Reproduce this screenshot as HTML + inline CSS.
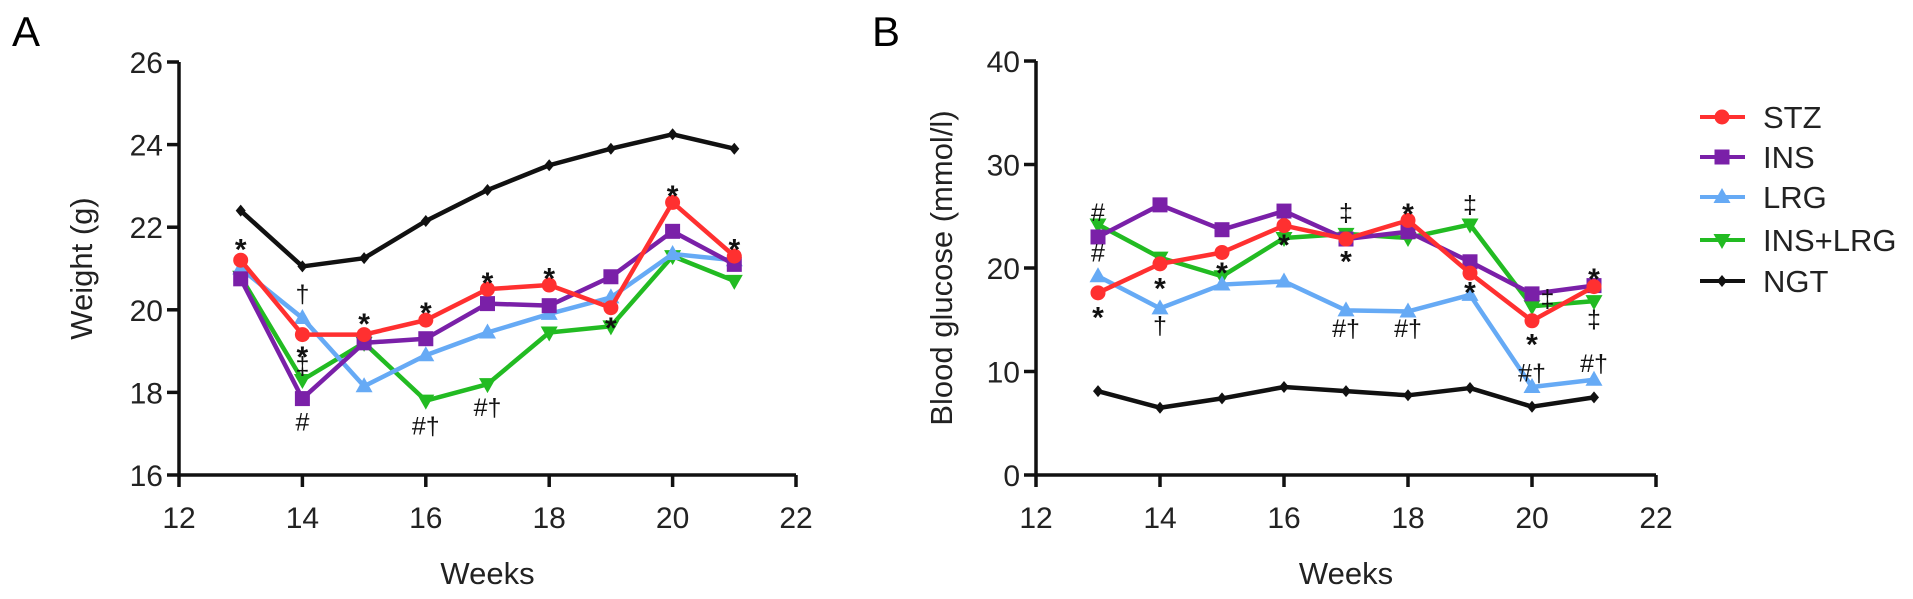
<!DOCTYPE html>
<html><head><meta charset="utf-8"><style>
html,body{margin:0;padding:0;background:#fff;}
svg{display:block;font-family:"Liberation Sans",Arial,sans-serif;}
</style></head><body>
<svg id="fig" width="1913" height="599" viewBox="0 0 1913 599">
<text x="12" y="46" font-size="42">A</text>
<text x="872" y="46" font-size="42">B</text>
<g id="pa"></g>
<g id="pb"></g>
<g id="legend"></g>
</svg>
<script>
const weeks = [13,14,15,16,17,18,19,20,21];
const seriesNames = ["STZ","INS","LRG","INS+LRG","NGT"];
const weightSTZ = [21.2,19.4,19.4,19.75,20.5,20.6,20.05,22.6,21.3];
const weightINS = [20.75,17.85,19.2,19.3,20.15,20.1,20.8,21.9,21.1];
const weightLRG = [21.0,19.8,18.15,18.9,19.45,19.9,20.3,21.35,21.2];
const weightINSLRG = [20.8,18.3,19.2,17.8,18.2,19.45,19.6,21.3,20.7];
const weightNGT = [22.4,21.05,21.25,22.15,22.9,23.5,23.9,24.25,23.9];
const glucSTZ = [17.6,20.4,21.5,24.1,22.8,24.6,19.5,14.9,18.2];
const glucINS = [23.0,26.1,23.7,25.5,22.8,23.5,20.6,17.5,18.3];
const glucLRG = [19.2,16.1,18.4,18.7,15.9,15.8,17.4,8.5,9.2];
const glucINSLRG = [24.2,21.0,19.2,22.9,23.3,22.9,24.2,16.3,16.8];
const glucNGT = [8.1,6.5,7.4,8.5,8.1,7.7,8.4,6.6,7.5];
const xTicks = [12,14,16,18,20,22];
const weightTicks = [16,18,20,22,24,26];
const glucTicks = [0,10,20,30,40];
const annWeightX = [13,14,14,14,14,15,16,16,17,17,18,19,20,21];
const annWeightY = [21.6,20.4,19.0,18.66,17.3,19.8,20.07,17.2,20.8,17.65,20.9,19.7,22.9,21.6];
const annWeightT = ["*","†","*","‡","#","*","*","#†","*","#†","*","*","*","*"];
const annGlucX = [13,13,13,14,14,15,16,17,17,17,18,18,19,19,20.25,20,20,21,21,21];
const annGlucY = [25.4,21.5,15.8,18.6,14.5,20.1,22.8,25.4,21.2,14.2,25.8,14.2,26.2,18.2,17.1,13.2,9.9,19.5,15.1,10.8];
const annGlucT = ["#","#","*","*","†","*","*","‡","*","#†","*","#†","‡","*","‡","*","#†","*","‡","#†"];

const colors = ["#ff3030","#7a20a8","#66aaf5","#22bb22","#111"];
const markers = ["circle","square","up","down","diamond"];
const NS="http://www.w3.org/2000/svg";
function mk(tag, attrs, parent){const e=document.createElementNS(NS,tag);for(const k in attrs)e.setAttribute(k,attrs[k]);parent.appendChild(e);return e;}
function marker(g,type,x,y,c){
  let e;
  if(type==="circle") e=mk("circle",{cx:x,cy:y,r:7.5,fill:c},g);
  else if(type==="square") e=mk("rect",{x:x-7.5,y:y-7.5,width:15,height:15,fill:c},g);
  else if(type==="up") e=mk("polygon",{points:`${x},${y-9} ${x+8.5},${y+6} ${x-8.5},${y+6}`,fill:c},g);
  else if(type==="down") e=mk("polygon",{points:`${x},${y+9} ${x+8.5},${y-6} ${x-8.5},${y-6}`,fill:c},g);
  else e=mk("polygon",{points:`${x},${y-6} ${x+5},${y} ${x},${y+6} ${x-5},${y}`,fill:c},g);
  return e;
}
function chart(g, x0,x1,y0,y1, ymin,ymax, yticks, series, annX, annY, annT, ytitle, tx, pfx){
  const X=v=>x0+(v-12)/(22-12)*(x1-x0);
  const Y=v=>y0-(v-ymin)/(ymax-ymin)*(y0-y1);
  const ax=mk("path",{d:`M${x0},${y1} V${y0} H${x1}`,stroke:"#111","stroke-width":3.5,fill:"none"},g);
  
  
  yticks.forEach(t=>{
    mk("line",{x1:x0-12,x2:x0,y1:Y(t),y2:Y(t),stroke:"#111","stroke-width":3.5},g);
    const l=mk("text",{x:x0-16,y:Y(t)+11,"font-size":30,"text-anchor":"end",fill:"#222"},g);l.textContent=t;
    
    
  });
  xTicks.forEach(t=>{
    mk("line",{x1:X(t),x2:X(t),y1:y0,y2:y0+12,stroke:"#111","stroke-width":3.5},g);
    const l=mk("text",{x:X(t),y:y0+53,"font-size":30,"text-anchor":"middle",fill:"#222"},g);l.textContent=t;
    
    
  });
  const xt=mk("text",{x:(x0+x1)/2,y:584,"font-size":31,"text-anchor":"middle",fill:"#222"},g);xt.textContent="Weeks";
  
  
  const yt=mk("text",{x:0,y:0,"font-size":31,"text-anchor":"middle",fill:"#222",transform:`translate(${tx},${(y0+y1)/2}) rotate(-90)`},g);yt.textContent=ytitle;
  
  
  const order=[4,3,2,1,0];
  order.forEach(i=>{
    const vals=series[i];
    const sg=mk("g",{},g);
    
    
    const d=vals.map((v,j)=>(j?"L":"M")+X(weeks[j])+","+Y(v)).join(" ");
    mk("path",{d:d,stroke:colors[i],"stroke-width":4.5,fill:"none","stroke-linejoin":"round"},sg);
    vals.forEach((v,j)=>{const m=marker(sg,markers[i],X(weeks[j]),Y(v),colors[i]);
      
      });
  });
  annX.forEach((w,i)=>{
    const t=mk("text",{x:X(w),y:Y(annY[i])+(annT[i]==="*"?16:9),"font-size":annT[i]==="*"?30:25,"text-anchor":"middle",fill:"#111","font-weight":annT[i]==="*"?"bold":"normal"},g);
    t.textContent=annT[i];
    
    
  });
}
chart(document.getElementById("pa"),179,796,475,62,16,26,weightTicks,
  [weightSTZ,weightINS,weightLRG,weightINSLRG,weightNGT],annWeightX,annWeightY,annWeightT,"Weight (g)",92,"weight");
chart(document.getElementById("pb"),1036,1656,475,61,0,40,glucTicks,
  [glucSTZ,glucINS,glucLRG,glucINSLRG,glucNGT],annGlucX,annGlucY,annGlucT,"Blood glucose (mmol/l)",952,"glucose");
const lg=document.getElementById("legend");
const legY=[117,157,197,240,281];
seriesNames.forEach((n,i)=>{
  const e=mk("g",{},lg);
  
  
  mk("line",{x1:1700,x2:1745,y1:legY[i],y2:legY[i],stroke:colors[i],"stroke-width":4},e);
  marker(e,markers[i],1722,legY[i],colors[i]);
  const t=mk("text",{x:1763,y:legY[i]+11,"font-size":31,fill:"#222"},e);t.textContent=n;
});
</script>
</body></html>
